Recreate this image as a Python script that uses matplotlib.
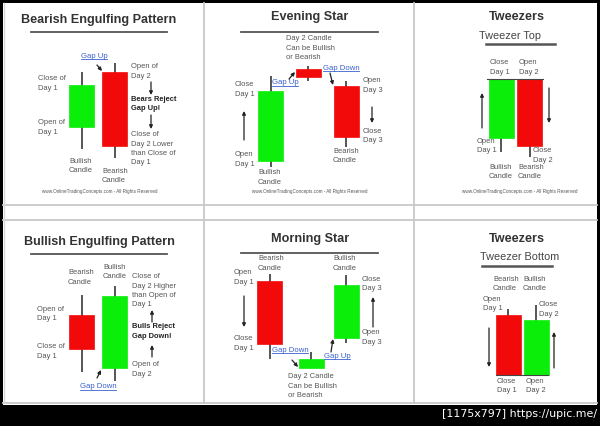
import numpy as np
import matplotlib
matplotlib.use("Agg")
import matplotlib.pyplot as plt
from matplotlib.patches import Rectangle

H = 426  # picture height, text positions are given from the top
FONT = ["Liberation Sans", "DejaVu Sans"]
GREEN = "#0aee0a"
RED = "#f20a0a"

# candle data: centre x of each day, open / close / high / low (price units, up = higher)
be_x = [81.5, 114.5]
be_open = [299, 354]
be_close = [341, 280]
be_high = [354, 363]
be_low = [277, 268]

es_x = [270.5, 308, 346]
es_open = [265, 357, 340]
es_close = [335, 349, 289]
es_high = [350, 360, 345]
es_low = [259, 345, 279]

tt_x = [501, 529.5]
tt_open = [288, 347]
tt_close = [347, 280]
tt_high = [347, 347]
tt_low = [274, 269]

bu_x = [81.5, 114.5]
bu_open = [111, 58]
bu_close = [77, 130]
bu_high = [131, 140]
bu_low = [54, 45]

ms_x = [269.5, 311, 346]
ms_open = [145, 58, 88]
ms_close = [82, 67, 141]
ms_high = [152, 74, 151]
ms_low = [67, 58, 83]

tb_x = [508, 536]
tb_open = [111, 51]
tb_close = [51, 106]
tb_high = [117, 121]
tb_low = [51, 51]

fig = plt.figure(figsize=(6, 4.26), dpi=100, facecolor="black")
ax = fig.add_axes([0, 0, 1, 1])
ax.set_xlim(0, 600)
ax.set_ylim(0, H)
ax.axis("off")

# white sheet and grey frame lines
ax.add_patch(Rectangle((3, H - 405), 594, 402, facecolor="white", edgecolor="none", zorder=0))
for yy in [205, 220, 403]:
    ax.plot([3, 597], [H - yy, H - yy], color="#c8c8c8", lw=1.3, zorder=1)
for xx in [204, 414]:
    ax.plot([xx, xx], [H - 403, H - 3], color="#c8c8c8", lw=1.3, zorder=1)
ax.plot([4, 4], [H - 403, H - 3], color="#d8d8d8", lw=1, zorder=1)


def candles(x, o, c, hi, lo, w=25):
    x = np.array(x); o = np.array(o); c = np.array(c)
    ax.vlines(x, lo, hi, color="#555555", lw=1.4, zorder=2)
    cols = [GREEN if cc > oo else RED for oo, cc in zip(o, c)]
    ax.bar(x, c - o, bottom=o, width=w, color=cols, edgecolor=cols, lw=0.5, zorder=3)


def title(x, y, s, size=9.1, underline=None, lw=1.3, bold=True):
    ax.text(x, H - y, s, ha="center", va="center", fontsize=size,
            color="#333333" if bold else "#444444",
            family=FONT, fontweight="bold" if bold else "normal", zorder=5)
    if underline:
        ax.plot(underline[:2], [H - underline[2]] * 2, color="#555555", lw=lw, zorder=5)


def label(x, y, s, bold=False):
    ax.text(x, H - y, s, ha="left", va="top", fontsize=5.4, color="#222222" if bold else "#555555",
            family=FONT, fontweight="bold" if bold else "normal", linespacing=1.5, zorder=5)


def link(x, y, s):
    t = ax.text(x, H - y, s, ha="center", va="center", fontsize=5.6, color="#3a5fcd",
                family=FONT, zorder=5)
    fig.canvas.draw()
    bb = t.get_window_extent().transformed(ax.transData.inverted())
    ax.plot([bb.x0, bb.x1], [bb.y0 + 0.3] * 2, color="#3a5fcd", lw=0.6, zorder=5)


def arrow(x1, y1, x2, y2):
    ax.annotate("", xy=(x2, H - y2), xytext=(x1, H - y1),
                arrowprops=dict(arrowstyle="-|>", color="#222222", lw=0.9, mutation_scale=5,
                                shrinkA=0, shrinkB=0), zorder=6)


def footer(x, y):
    ax.text(x, H - y, "www.OnlineTradingConcepts.com - All Rights Reserved", ha="center",
            va="center", fontsize=3.3, color="#555555", family=FONT, zorder=5)


# --- Bearish Engulfing
candles(be_x, be_open, be_close, be_high, be_low)
title(99, 20, "Bearish Engulfing Pattern", underline=(31, 167, 32))
label(38, 75, "Close of\nDay 1")
label(38, 119, "Open of\nDay 1")
label(131, 63, "Open of\nDay 2")
label(131, 96, "Bears Reject\nGap Up!", bold=True)
label(131, 131, "Close of\nDay 2 Lower\nthan Close of\nDay 1")
label(69, 158, "Bullish\nCandle")
label(102, 168, "Bearish\nCandle")
link(94, 56, "Gap Up")
arrow(97, 65, 102, 71)
arrow(151, 82, 151, 95)
arrow(151, 115, 151, 129)
footer(100, 192)

# --- Evening Star
candles(es_x, es_open, es_close, es_high, es_low)
title(310, 17, "Evening Star", underline=(241, 378, 32))
label(286, 35, "Day 2 Candle\nCan be Bullish\nor Bearish")
label(235, 81, "Close\nDay 1")
label(235, 151, "Open\nDay 1")
label(258, 169, "Bullish\nCandle")
label(363, 77, "Open\nDay 3")
label(363, 128, "Close\nDay 3")
label(333, 148, "Bearish\nCandle")
link(285, 83, "Gap Up")
link(341, 68, "Gap Down")
arrow(244, 140, 244, 111)
arrow(372, 107, 372, 123)
arrow(289, 79, 295, 72)
arrow(330, 73, 333, 85)
footer(310, 192)

# --- Tweezer Top
candles(tt_x, tt_open, tt_close, tt_high, tt_low)
ax.plot([487, 543], [H - 79, H - 79], color="#444444", lw=0.8, zorder=4)
title(517, 17, "Tweezers")
title(510, 36, "Tweezer Top", size=7.8, underline=(486, 555, 44), lw=1.8, bold=False)
label(490, 59, "Close\nDay 1")
label(519, 59, "Open\nDay 2")
label(477, 138, "Open\nDay 1")
label(533, 147, "Close\nDay 2")
label(489, 164, "Bullish\nCandle")
label(518, 164, "Bearish\nCandle")
arrow(482, 128, 482, 93)
arrow(549, 88, 549, 123)
footer(520, 192)

# --- Bullish Engulfing
candles(bu_x, bu_open, bu_close, bu_high, bu_low)
title(99, 242, "Bullish Engulfing Pattern", underline=(31, 167, 254))
label(68, 269, "Bearish\nCandle")
label(103, 264, "Bullish\nCandle")
label(37, 306, "Open of\nDay 1")
label(37, 343, "Close of\nDay 1")
label(132, 273, "Close of\nDay 2 Higher\nthan Open of\nDay 1")
label(132, 323, "Bulls Reject\nGap Down!", bold=True)
label(132, 361, "Open of\nDay 2")
link(98, 387, "Gap Down")
arrow(152, 322, 152, 310)
arrow(152, 357, 152, 345)
arrow(97, 378, 101, 370)

# --- Morning Star
candles(ms_x, ms_open, ms_close, ms_high, ms_low)
title(310, 239, "Morning Star", underline=(241, 378, 253))
label(258, 255, "Bearish\nCandle")
label(234, 269, "Open\nDay 1")
label(234, 335, "Close\nDay 1")
label(333, 255, "Bullish\nCandle")
label(362, 276, "Close\nDay 3")
label(362, 329, "Open\nDay 3")
label(288, 373, "Day 2 Candle\nCan be Bullish\nor Bearish")
link(290, 350, "Gap Down")
link(337, 356, "Gap Up")
arrow(244, 296, 244, 327)
arrow(373, 327, 373, 297)
arrow(292, 360, 298, 367)
arrow(331, 352, 333, 339)

# --- Tweezer Bottom
candles(tb_x, tb_open, tb_close, tb_high, tb_low)
ax.plot([496, 548], [H - 375, H - 375], color="#444444", lw=0.8, zorder=4)
title(517, 239, "Tweezers")
title(520, 257, "Tweezer Bottom", size=7.8, underline=(482, 552, 266), lw=1.8, bold=False)
label(493, 276, "Bearish\nCandle")
label(523, 276, "Bullish\nCandle")
label(483, 296, "Open\nDay 1")
label(539, 301, "Close\nDay 2")
label(497, 378, "Close\nDay 1")
label(526, 378, "Open\nDay 2")
arrow(489, 328, 489, 367)
arrow(554, 368, 554, 332)

ax.text(597, H - 414, "[1175x797] https://upic.me/", ha="right", va="center", fontsize=7.9,
        color="white", family=["DejaVu Sans", "DejaVu Sans Mono"], zorder=5)

fig.savefig("out.png", dpi=100, facecolor="black")
